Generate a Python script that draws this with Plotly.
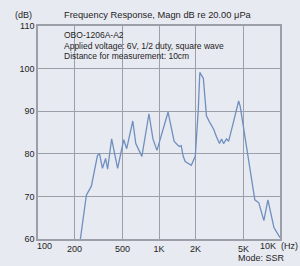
import plotly.graph_objects as go

freq_hz = [224, 251, 276, 310, 322, 341, 362, 376, 406, 455, 511, 541, 607, 643, 722, 826, 891, 962,
           1189, 1259, 1334, 1468, 1525, 1585, 1647, 1848, 1995, 2113, 2175, 2326, 2466, 2610, 2818,
           2985, 3162, 3286, 3415, 3616, 3758, 4056, 4550, 4686, 5109, 5521, 6194, 6683, 7356, 7943,
           8254, 8913, 9441, 10000]
level_db = [60.0, 70.3, 72.4, 79.6, 80.1, 76.6, 78.9, 76.4, 83.5, 76.6, 83.3, 81.2, 87.7, 82.4, 79.4,
            89.4, 83.5, 80.8, 89.8, 85.9, 82.9, 81.7, 81.9, 79.4, 78.2, 77.3, 79.4, 90.5, 99.1, 97.7,
            88.9, 87.5, 85.9, 84.0, 82.4, 83.5, 82.4, 83.5, 82.9, 86.6, 92.4, 91.2, 84.2, 78.9, 69.2,
            68.5, 64.3, 69.2, 66.8, 62.7, 61.5, 60.3]

x_tick_vals = [100, 200, 500, 1000, 2000, 5000, 10000]
x_tick_text = ["100", "200", "500", "1K", "2K", "5K", "10K"]
y_tick_vals = [60, 70, 80, 90, 100, 110]

title_text = "Frequency Response, Magn dB re 20.00 μPa"
info_lines = ["OBO-1206A-A2", "Applied voltage: 6V, 1/2 duty, square wave", "Distance for measurement: 10cm"]

BG = "#e8eaf2"
GRID = "#9c9ea8"
TXT = "#1e1e1e"
FONT = "Liberation Sans, Arial, sans-serif"

W, H = 300, 266
L, R, T, B = 38, 20, 26, 24

fig = go.Figure()
fig.add_trace(go.Scatter(x=freq_hz, y=level_db, mode="lines",
                         line=dict(color="#6f8fc0", width=1.3), hoverinfo="skip"))

# inner tick labels drawn by the axis; the two edge ones are nudged inward like the reference
axis_text = [t if i not in (0, len(x_tick_text) - 1) else "" for i, t in enumerate(x_tick_text)]

fig.update_layout(
    width=W, height=H,
    margin=dict(l=L, r=R, t=T, b=B),
    paper_bgcolor=BG, plot_bgcolor=BG,
    showlegend=False,
    font=dict(family=FONT, size=9, color=TXT),
    xaxis=dict(type="log", range=[2, 4], tickvals=x_tick_vals, ticktext=axis_text,
               showgrid=True, gridcolor=GRID, gridwidth=1.2,
               showline=True, linecolor=GRID, linewidth=1.5, mirror=True,
               ticks="", ticklen=0, tickfont=dict(size=9, color=TXT), zeroline=False),
    yaxis=dict(range=[60, 110], tickvals=y_tick_vals,
               showgrid=True, gridcolor=GRID, gridwidth=1.2,
               showline=True, linecolor=GRID, linewidth=1.5, mirror=True,
               ticks="", ticklen=0, tickfont=dict(size=9, color=TXT), zeroline=False),
)

def px_to_paper(px, py):
    return (px - L) / (W - L - R), ((H - py) - B) / (H - T - B)

anns = [
    dict(text="(dB)", x=13, y=15, anchor="left", size=9),
    dict(text=title_text, x=62, y=15, anchor="left", size=9.3),
    dict(text=x_tick_text[0], x=44, y=249, anchor="center", size=9),
    dict(text=x_tick_text[-1], x=268, y=249, anchor="center", size=9),
    dict(text="(Hz)", x=279, y=249, anchor="left", size=9),
    dict(text="Mode: SSR", x=261, y=261, anchor="center", size=9),
]
for i, line in enumerate(info_lines):
    anns.append(dict(text=line, x=62, y=35.5 + i * 10.3, anchor="left", size=8.5))

for a in anns:
    ax, ay = px_to_paper(a["x"], a["y"])
    fig.add_annotation(text=a["text"], x=ax, y=ay, xref="paper", yref="paper",
                       xanchor=a["anchor"], yanchor="middle", showarrow=False,
                       font=dict(family=FONT, size=a["size"], color=TXT))

fig.write_html("out.html", config={"displayModeBar": False},
               post_script="document.body.style.margin='0';document.body.style.background='" + BG + "';")
